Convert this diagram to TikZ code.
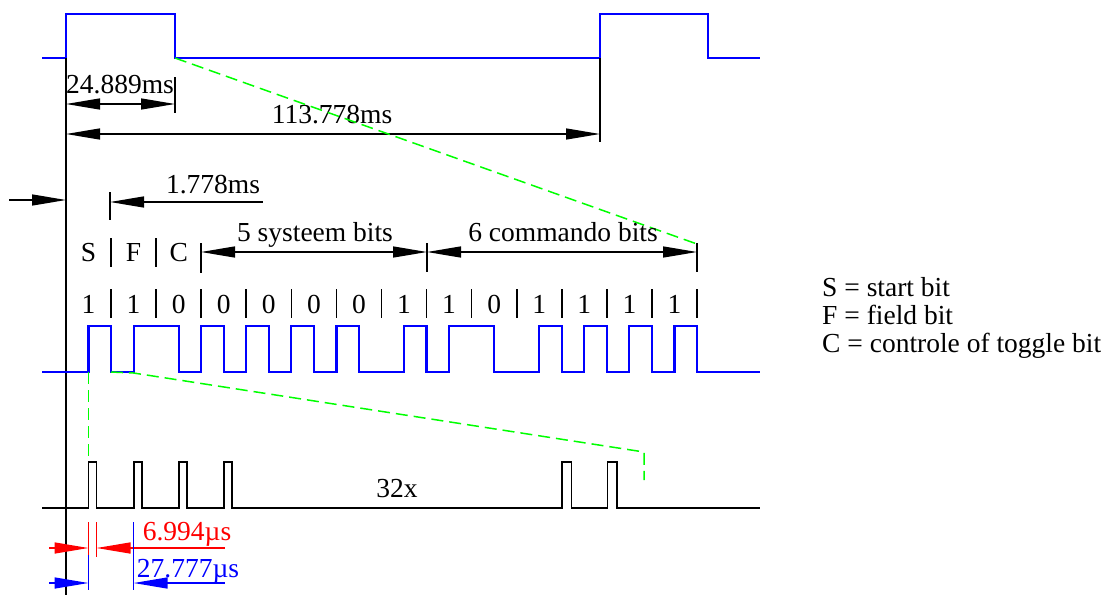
\documentclass[tikz,border=0pt]{standalone}
\usepackage{fontspec}
\setmainfont{Liberation Serif}
\usetikzlibrary{arrows.meta}
\begin{document}
\begin{tikzpicture}[x=1pt,y=-1pt,
  lbl/.style={anchor=base,inner sep=0pt,font=\fontsize{27.5}{33}\selectfont},
  sigb/.style={blue,line width=2.2pt},
  sigk/.style={black,line width=1.8pt},
  dimline/.style={line width=1.4pt},
  tickm/.style={line width=1.6pt},
  gd/.style={green,line width=1.5pt,dash pattern=on 12pt off 6pt},
  >={Triangle[length=34pt,width=11pt]}]
\useasboundingbox (0,0) rectangle (1113,595);

% ---------- top frame signal ----------
\draw[sigb] (42,58) -- (66,58) -- (66,14) -- (175,14) -- (175,58) -- (600,58) -- (600,14) -- (708,14) -- (708,58) -- (760,58);

% reference vertical line
\draw[sigk] (66,58) -- (66,595);

% 24.889ms
\draw[tickm] (175,77) -- (175,113);
\draw[dimline,<->] (66,104) -- (175,104);
\node[lbl] (t1) at (120,93) {24.889ms};

% 113.778ms
\draw[tickm] (600,58) -- (600,142);
\draw[dimline,<->] (66,134) -- (600,134);
\node[lbl] (t2) at (332,123) {113.778ms};

% green dashed zoom line (top)
\draw[gd] (175,58) -- (697,244);

% 1.778ms
\draw[dimline,->] (9,200) -- (66,200);
\draw[tickm] (110,192) -- (110,220);
\draw[dimline,<-] (110,202) -- (263,202);
\node[lbl] (t3) at (213,193) {1.778ms};

% S F C
\node[lbl] (s) at (88.5,261) {S};
\node[lbl] (f) at (133.6,261) {F};
\node[lbl] (c) at (178.7,261) {C};
\draw[tickm] (111,238) -- (111,267);
\draw[tickm] (156,238) -- (156,267);

% 5 systeem bits / 6 commando bits
\draw[tickm] (201,243) -- (201,273);
\draw[tickm] (427,243) -- (427,272);
\draw[tickm] (697,243) -- (697,272);
\draw[dimline,<->] (201,252) -- (427,252);
\draw[dimline,<->] (427,252) -- (697,252);
\node[lbl] (sys) at (315,241) {5 systeem bits};
\node[lbl] (cmd) at (563,241) {6 commando bits};

% bit values
\foreach \b [count=\i from 0] in {1,1,0,0,0,0,0,1,1,0,1,1,1,1} {
  \pgfmathsetmacro{\xm}{66+45.0714*\i+22.54}
  \pgfmathsetmacro{\xe}{66+45.0714*(\i+1)}
  \node[lbl] (b\i) at (\xm,313) {\b};
  \draw[tickm] (\xe,289) -- (\xe,318);
}

% Manchester coded signal
\draw[sigb] (42,372) -- (88.54,372) -- (88.54,326) -- (111.07,326) -- (111.07,372) -- (133.61,372) -- (133.61,326)
  -- (178.68,326) -- (178.68,372) -- (201.21,372) -- (201.21,326) -- (223.75,326) -- (223.75,372) -- (246.29,372)
  -- (246.29,326) -- (268.82,326) -- (268.82,372) -- (291.36,372) -- (291.36,326) -- (313.89,326) -- (313.89,372)
  -- (336.43,372) -- (336.43,326) -- (358.96,326) -- (358.96,372) -- (404.04,372) -- (404.04,326) -- (426.57,326)
  -- (426.57,372) -- (449.11,372) -- (449.11,326) -- (494.18,326) -- (494.18,372) -- (539.25,372) -- (539.25,326)
  -- (561.79,326) -- (561.79,372) -- (584.32,372) -- (584.32,326) -- (606.86,326) -- (606.86,372) -- (629.39,372)
  -- (629.39,326) -- (651.93,326) -- (651.93,372) -- (674.46,372) -- (674.46,326) -- (697,326) -- (697,372) -- (760,372);

% green dashed zoom lines (bottom)
\draw[gd] (88.5,372) -- (88.5,462);
\draw[gd] (111,372) -- (133.6,373) -- (644,452) -- (644,480);

% carrier pulses
\draw[sigk] (42,508) -- (88.5,508) -- (88.5,462) -- (96.5,462) -- (96.5,508)
  -- (133.6,508) -- (133.6,462) -- (142,462) -- (142,508)
  -- (178.7,508) -- (178.7,462) -- (187,462) -- (187,508)
  -- (223.8,508) -- (223.8,462) -- (232,462) -- (232,508)
  -- (562,508) -- (562,462) -- (571.5,462) -- (571.5,508)
  -- (607.5,508) -- (607.5,462) -- (617,462) -- (617,508)
  -- (760,508);
\node[lbl] (n32) at (397,497) {32x};

% 6.994us (red)
\draw[red,tickm] (88.5,522) -- (88.5,555);
\draw[red,tickm] (96.5,522) -- (96.5,557);
\draw[red,dimline,->] (49,548) -- (88.5,548);
\draw[red,dimline,<-] (96.5,548) -- (225,548);
\node[lbl,text=red] (tr) at (187,540) {6.994µs};

% 27.777us (blue)
\draw[blue,tickm] (88.5,555) -- (88.5,590);
\draw[blue,tickm] (133.6,522) -- (133.6,590);
\draw[blue,dimline,->] (49,583) -- (88.5,583);
\draw[blue,dimline,<-] (133.6,583) -- (225,583);
\node[lbl,text=blue] (tb) at (188,577) {27.777µs};

% legend
\node[lbl,anchor=base west] (l1) at (822,296) {S = start bit};
\node[lbl,anchor=base west] (l2) at (822,324) {F = field bit};
\node[lbl,anchor=base west] (l3) at (822,352) {C = controle of toggle bit};
\end{tikzpicture}
\end{document}
